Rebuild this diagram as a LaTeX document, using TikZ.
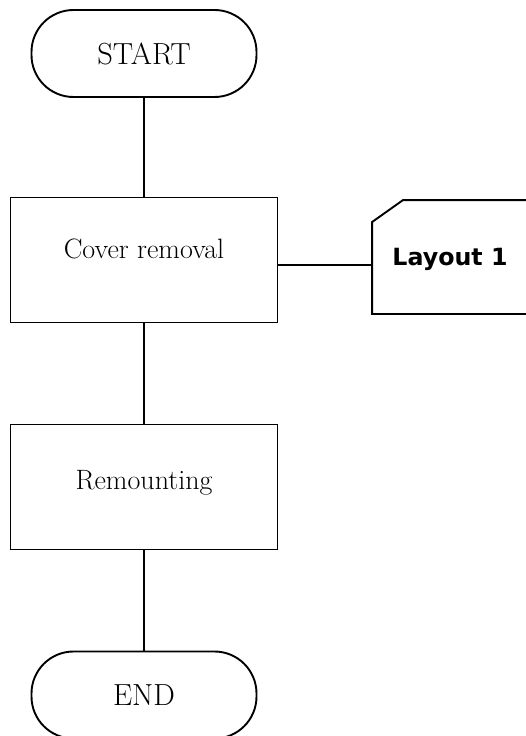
\documentclass[tikz,border=0pt]{standalone}
\usepackage{fontspec}
\usepackage{tikz}
\newfontfamily\layoutfont{DejaVu Sans}

\begin{document}
\begin{tikzpicture}[x=1pt,y=-1pt,line width=1.9pt]
\tikzstyle{every node}=[inner sep=0pt]
\tikzstyle{term}=[draw,rounded corners=42pt,minimum width=225pt,minimum height=87pt,font=\fontsize{30.5}{36}\selectfont]
\tikzstyle{stepbox}=[draw,minimum width=267pt,minimum height=125pt]
\tikzstyle{boxtext}=[anchor=base,font=\fontsize{28}{33}\selectfont]
\useasboundingbox (0,0) rectangle (526,736);
\node[term] (start) at (144,53.5) {START};
\node[stepbox] (cover) at (144,260) {};
\node[boxtext] (covertxt) at (144,258) {Cover removal};
\node[stepbox] (remount) at (144,487) {};
\node[boxtext] (remounttxt) at (144,489) {Remounting};
\node[term] (end) at (144,695) {END};
\node[minimum width=165pt,minimum height=112pt] (layout) at (455.5,257) {};
\node[anchor=base,font=\layoutfont\bfseries\fontsize{23.7}{28}\selectfont] (layouttxt) at (450,265) {Layout 1};
\draw ([yshift=-22pt]layout.north west) -- ([xshift=31pt]layout.north west) -- (layout.north east) -- (layout.south east) -- (layout.south west) -- cycle;
\coordinate (tap) at (0,265);
\path (start) edge (cover) (cover) edge (remount) (remount) edge (end);
\draw (cover.east |- tap) -- (layout.west |- tap);
\end{tikzpicture}
\end{document}
